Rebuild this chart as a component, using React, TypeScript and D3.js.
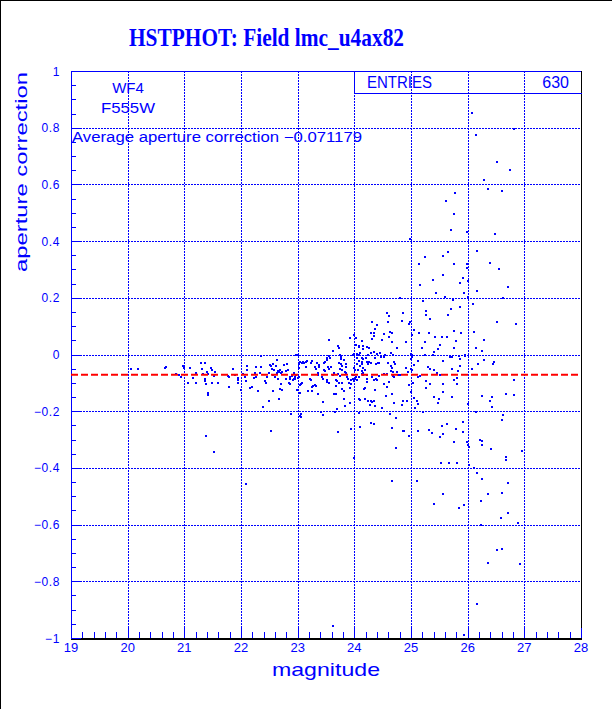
import React from "react";
import * as d3 from "d3";

const chartTitle = "HSTPHOT: Field lmc_u4ax82";
const xTitle = "magnitude";
const yTitle = "aperture correction";
const chipLabel = "WF4";
const filterLabel = "F555W";
const averageCorrection = -0.071179;
const averageLabel = "Average aperture correction \u22120.071179";
const entriesLabel = "ENTRIES";
const entries = 630;

const xTicks = [19, 20, 21, 22, 23, 24, 25, 26, 27, 28];
const yTicks = [-1, -0.8, -0.6, -0.4, -0.2, 0, 0.2, 0.4, 0.6, 0.8, 1];
const xGrid = [20, 21, 22, 23, 24, 25, 26, 27];
const yGrid = [-0.8, -0.6, -0.4, -0.2, 0, 0.2, 0.4, 0.6, 0.8];

// [magnitude, aperture correction]
const stars: [number, number][] = [
  [26.08,0.853],[26.81,0.796],[26.15,0.774],[26.51,0.679],[26.74,0.65],[26.28,0.615],[26.35,0.585],[26.61,0.576],
  [25.77,0.57],[25.61,0.541],[25.75,0.497],[25.7,0.44],[25.98,0.433],[26.49,0.426],[24.98,0.407],[26.17,0.366],
  [25.65,0.363],[25.24,0.344],[25.57,0.347],[25.14,0.319],[25.76,0.319],[25.98,0.319],[25.98,0.306],[26.4,0.324],
  [26.56,0.3],[25.56,0.28],[25.91,0.27],[25.38,0.263],[26.0,0.26],[25.86,0.253],[25.16,0.245],[26.71,0.238],
  [25.45,0.217],[25.93,0.217],[26.16,0.224],[24.8,0.198],[25.6,0.203],[26.0,0.202],[26.62,0.198],[25.22,0.189],
  [25.74,0.191],[26.1,0.178],[25.87,0.169],[25.7,0.16],[25.26,0.153],[24.57,0.147],[24.86,0.145],[24.61,0.137],
  [25.27,0.139],[25.66,0.139],[25.34,0.126],[26.51,0.115],[26.86,0.108],[24.59,0.115],[24.84,0.118],[24.98,0.114],
  [24.96,0.107],[25.75,0.083],[26.11,0.08],[24.63,0.079],[24.53,0.073],[24.67,0.076],[25.06,0.086],[25.14,0.076],
  [25.02,0.07],[25.32,0.075],[25.54,0.062],[25.63,0.062],[25.43,0.061],[25.88,0.075],[24.62,0.061],[24.48,0.052],
  [26.28,0.051],[25.8,0.048],[24.66,0.044],[24.92,0.044],[25.24,0.044],[25.52,0.034],[24.75,0.024],[25.19,0.022],
  [25.48,0.018],[25.75,0.024],[26.14,0.022],[26.26,0.012],[25.4,0.009],[24.46,0.005],[24.64,0.005],[25.0,0.002],
  [25.01,-0.003],[25.02,-0.01],[25.0,-0.015],[24.68,-0.002],[24.54,0.0],[25.24,-0.002],[25.39,-0.002],[25.72,-0.008],
  [25.68,-0.01],[25.95,0.0],[25.95,-0.005],[25.84,-0.005],[24.47,-0.01],[24.52,-0.01],[25.13,-0.022],[25.57,-0.022],
  [25.87,-0.017],[26.28,-0.018],[26.47,-0.025],[26.45,-0.033],[26.19,-0.032],[24.6,-0.03],[24.7,-0.028],[24.71,-0.033],
  [25.06,-0.036],[24.43,-0.03],
  [24.64,-0.041],[24.66,-0.048],[24.65,-0.058],[24.69,-0.062],[24.75,-0.06],[24.92,-0.047],[24.94,-0.063],[25.0,-0.05],
  [25.02,-0.056],[25.3,-0.044],[25.34,-0.051],[25.4,-0.056],[25.46,-0.064],[25.72,-0.051],[25.83,-0.058],[25.86,-0.041],
  [26.07,-0.051],[24.43,-0.075],[24.52,-0.07],[24.57,-0.07],[24.69,-0.075],[24.7,-0.078],[24.77,-0.071],[24.8,-0.071],
  [25.12,-0.078],[25.16,-0.075],[24.96,-0.108],[25.03,-0.102],[25.27,-0.092],[25.33,-0.103],[25.27,-0.117],[25.52,-0.073],
  [25.56,-0.105],[25.76,-0.089],[25.82,-0.104],[25.82,-0.084],[25.57,-0.131],[25.72,-0.15],[25.4,-0.15],[25.49,-0.157],
  [25.47,-0.171],[25.06,-0.153],[25.11,-0.163],[25.13,-0.176],[25.07,-0.19],[24.93,-0.163],[24.85,-0.164],[24.84,-0.177],
  [24.7,-0.17],[24.56,-0.145],[24.67,-0.139],[24.57,-0.115],[24.53,-0.103],[24.61,-0.096],[24.48,-0.188],[25.0,-0.131],
  [26.0,-0.176],[26.25,-0.145],[26.43,-0.15],[26.39,-0.163],[26.43,-0.184],[26.67,-0.138],[26.82,-0.143],[26.82,-0.089],
  [26.14,-0.204],[26.63,-0.215],[26.61,-0.231],[25.22,-0.202],[24.73,-0.223],[24.63,-0.209],[24.66,-0.259],[24.86,-0.269],
  [24.88,-0.27],[24.96,-0.286],[25.13,-0.27],[25.31,-0.266],[25.37,-0.278],[25.54,-0.251],[25.63,-0.245],[25.79,-0.262],
  [25.91,-0.237],[25.91,-0.274],[25.52,-0.29],[25.57,-0.282],[25.75,-0.308],[25.99,-0.31],[26.01,-0.319],[26.02,-0.325],
  [26.22,-0.3],[26.25,-0.305],[26.25,-0.319],[26.42,-0.333],[24.73,-0.329],[26.95,-0.34],[26.67,-0.361],[26.67,-0.371],
  [25.53,-0.384],[25.67,-0.382],[25.82,-0.382],[26.02,-0.39],[26.11,-0.399],[26.17,-0.417],[26.26,-0.438],[24.67,-0.445],
  [25.11,-0.445],[26.72,-0.452],[25.57,-0.491],[26.35,-0.491],[26.6,-0.487],[26.24,-0.516],[25.4,-0.526],[25.94,-0.531],
  [25.84,-0.54],[26.72,-0.558],[26.58,-0.578],[26.88,-0.595],[26.23,-0.601],[26.51,-0.69],[26.6,-0.686],[26.92,-0.739],
  [26.35,-0.734],[26.17,-0.881],[23.63,-0.959],[25.93,-0.99],
  [20.06,-0.05],[20.19,-0.052],[20.68,-0.043],[20.66,-0.047],[20.98,-0.041],[21.0,-0.047],[21.1,-0.049],[20.86,-0.07],
  [20.9,-0.072],[20.94,-0.08],[21.06,-0.099],[21.2,-0.064],[21.29,-0.031],[21.36,-0.03],[21.31,-0.051],[21.4,-0.062],
  [21.33,-0.068],[21.15,-0.084],[21.2,-0.099],[21.36,-0.087],[21.36,-0.093],[21.47,-0.047],[21.49,-0.055],[21.54,-0.061],
  [21.42,-0.069],[21.52,-0.077],[21.48,-0.102],[21.38,-0.105],[21.41,-0.142],[21.41,-0.135],[21.6,-0.099],[21.78,-0.115],
  [21.85,-0.05],[21.77,-0.075],[21.79,-0.079],[21.9,-0.072],[21.94,-0.09],[21.94,-0.099],[21.94,-0.083],[22.0,-0.125],
  [22.03,-0.068],[22.07,-0.078],[22.08,-0.093],[22.1,-0.04],[22.11,-0.055],[22.16,-0.118],[22.19,-0.114],[22.23,-0.082],
  [22.26,-0.078],[22.24,-0.064],[22.33,-0.066],[22.27,-0.043],[22.35,-0.005],[22.35,-0.045],[22.3,-0.128],[22.38,-0.185],
  [22.43,-0.092],[22.44,-0.099],[22.46,-0.078],[22.49,-0.066],[22.5,-0.165],[22.51,-0.036],[22.53,-0.041],[22.56,-0.033],
  [22.54,-0.052],[22.59,-0.055],[22.57,-0.072],[22.6,-0.078],[22.56,-0.128],[22.63,-0.019],[22.62,-0.04],[22.66,-0.057],
  [22.67,-0.062],[22.68,-0.055],[22.7,-0.064],[22.72,-0.062],[22.64,-0.066],[22.65,-0.087],[22.71,-0.104],[22.69,-0.123],
  [22.72,-0.126],[22.67,-0.156],[22.76,-0.036],[22.81,-0.035],[22.8,-0.057],[22.83,-0.055],[22.79,-0.085],[22.86,-0.08],
  [22.87,-0.087],[22.9,-0.075],[22.92,-0.09],[22.94,-0.087],[22.95,-0.082],[22.85,-0.099],[22.86,-0.105],[22.89,-0.21],
  [22.97,-0.001],[23.01,-0.001],[23.02,-0.032],[23.04,-0.025],[23.03,-0.047],[23.08,-0.031],[23.09,-0.025],[23.11,-0.031],
  [23.14,-0.028],[23.16,-0.023],[22.93,-0.066],[22.95,-0.078],[22.97,-0.072],[23.02,-0.08],[23.0,-0.084],[22.96,-0.087],
  [22.99,-0.125],[23.05,-0.103],[23.04,-0.106],[23.07,-0.102],[23.04,-0.135],[23.06,-0.209],[23.06,-0.219],[23.15,-0.043],
  [23.21,-0.086],[23.23,-0.09],[23.24,-0.029],[23.26,-0.024],[23.27,-0.11],[23.3,-0.108],[23.32,-0.11],[23.26,-0.116],
  [23.26,-0.128],[23.19,-0.13],[23.35,-0.14],[23.35,-0.066],[23.35,-0.071],[23.34,-0.03],[23.38,-0.037],[23.37,-0.045],
  [23.3,-0.045],[23.32,-0.052],[23.43,-0.079],[23.45,-0.085],[23.45,-0.168],[23.42,-0.203],[23.45,-0.213],[23.47,-0.056],
  [23.49,-0.059],[23.47,-0.031],[23.49,-0.028],[23.51,-0.011],[23.52,-0.019],[23.55,-0.004],[23.57,-0.011],[23.56,0.051],
  [23.62,0.013],[23.54,-0.044],[23.55,-0.052],[23.58,-0.043],[23.51,-0.097],[23.55,-0.102],[23.52,-0.09],[23.63,-0.071],
  [23.65,-0.066],[23.67,-0.09],[23.69,-0.095],[23.68,-0.11],[23.64,-0.139],[23.67,-0.139],[23.66,-0.203],[23.69,-0.193],
  [23.72,0.03],[23.73,0.023],[23.75,-0.002],[23.77,-0.01],[23.77,-0.017],[23.82,-0.018],[23.73,-0.029],[23.77,-0.032],
  [23.78,-0.041],[23.75,-0.051],[23.79,-0.055],[23.72,-0.07],[23.75,-0.075],[23.73,-0.099],[23.79,-0.102],[23.79,-0.122],
  [23.81,-0.128],[23.85,-0.035],[23.86,-0.044],[23.84,-0.063],[23.85,-0.066],[23.87,-0.08],[23.88,-0.086],[23.9,-0.102],
  [23.92,-0.119],[23.94,-0.104],[23.95,-0.09],[23.98,-0.072],[23.99,-0.047],[24.01,-0.055],[23.82,-0.156],[23.83,-0.182],
  [24.0,0.07],[24.03,0.057],[24.03,0.034],[24.08,0.031],[24.09,0.026],[23.97,-0.003],[24.0,0.001],[24.04,0.001],
  [24.08,-0.003],[24.1,0.005],[24.05,-0.011],[24.13,-0.011],[24.16,-0.015],[24.2,-0.011],[24.08,-0.024],[24.13,-0.025],
  [24.05,-0.034],[24.1,-0.041],[24.14,-0.034],[24.16,-0.047],[24.06,-0.055],[24.14,-0.057],[24.18,-0.054],[24.03,-0.078],
  [24.08,-0.08],[24.14,-0.07],[24.16,-0.072],[23.98,-0.087],[24.0,-0.095],[24.02,-0.087],[24.04,-0.09],[24.08,-0.158],
  [24.1,-0.161],[24.19,-0.158],[24.24,-0.163],[24.18,-0.117],[24.22,-0.097],[24.23,-0.085],[24.1,-0.255],[24.3,-0.243],
  [24.34,-0.245],[24.28,-0.177],[24.29,-0.165],[24.32,-0.168],[24.35,-0.163],[24.36,-0.181],[24.32,0.116],[24.4,0.104],
  [24.3,0.077],[24.34,0.064],[24.32,0.055],[24.16,0.031],[24.15,0.02],[24.23,0.028],[24.26,0.023],[24.24,-0.003],
  [24.3,0.004],[24.34,0.01],[24.36,-0.011],[24.4,0.002],[24.22,-0.025],[24.24,-0.032],[24.26,-0.028],[24.3,-0.031],
  [24.38,-0.032],[24.42,-0.031],[24.22,-0.072],[24.16,-0.066],[24.31,-0.078],[24.34,-0.09],[24.38,-0.087],[24.4,-0.09],
  [24.17,-0.123],[24.36,-0.125],[24.14,0.048],[23.93,0.059],[24.35,0.075],[24.37,0.09],[23.95,-0.262],[24.09,-0.208],
  [23.92,-0.17],[23.99,-0.366],[21.38,-0.289],[21.53,-0.343],[22.53,-0.269],[23.04,-0.217],[23.71,-0.272],[22.09,-0.457],
];

const BLUE = "#0000ff";

export default function App() {
  const W = 612;
  const H = 709;
  const x = d3.scaleLinear().domain([19, 28]).range([71, 581]);
  const y = d3.scaleLinear().domain([-1, 1]).range([638, 71]);
  const fmt = d3.format("~g");
  const xMinor = d3.range(19, 28.0001, 0.2).filter((v) => Math.abs(v - Math.round(v)) > 1e-6);
  const yMinor = d3.range(-1, 1.0001, 0.05).filter((v) => Math.abs(v / 0.2 - Math.round(v / 0.2)) > 1e-6);
  const x0 = x(19), x1 = x(28), yTop = y(1), yBot = y(-1);
  const sans = "'Liberation Sans', Arial, Helvetica, sans-serif";
  const serif = "'Liberation Serif', 'Times New Roman', serif";
  const boxLeft = 354;
  const boxBottom = 93;

  return (
    <svg width={W} height={H} style={{ position: "absolute", left: 0, top: 0, background: "#fff" }}>
      <rect x={0} y={0} width={W} height={H} fill="#fff" />
      <line x1={0.5} y1={0} x2={0.5} y2={H} stroke="#000" />
      <line x1={0} y1={0.5} x2={W} y2={0.5} stroke="#000" />

      <text x={129} y={46} fontFamily={serif} fontWeight="bold" fontSize={26} fill={BLUE}
        textLength={275} lengthAdjust="spacingAndGlyphs">{chartTitle}</text>

      {/* grid */}
      <g stroke={BLUE} strokeWidth={1} strokeDasharray="2,1" shapeRendering="crispEdges">
        {xGrid.map((v) => (
          <line key={"gx" + v} x1={Math.round(x(v)) + 0.5} x2={Math.round(x(v)) + 0.5} y1={yTop} y2={yBot} />
        ))}
        {yGrid.map((v) => (
          <line key={"gy" + v} x1={x0} x2={x1} y1={Math.round(y(v)) + 0.5} y2={Math.round(y(v)) + 0.5} />
        ))}
      </g>

      {/* frame */}
      <g shapeRendering="crispEdges">
        <line x1={x0} x2={x1 + 1} y1={yTop + 0.5} y2={yTop + 0.5} stroke={BLUE} />
        <line x1={x1 + 0.5} x2={x1 + 0.5} y1={yTop} y2={yBot} stroke="#000" />
        <line x1={x0} x2={x1 + 1} y1={yBot + 1} y2={yBot + 1} stroke="#000" strokeWidth={2} />
        <line x1={x0 + 0.5} x2={x0 + 0.5} y1={yTop} y2={yBot + 1} stroke={BLUE} />
      </g>

      {/* ticks */}
      <g stroke={BLUE} shapeRendering="crispEdges">
        {xTicks.map((v) => (
          <line key={"tx" + v} x1={Math.round(x(v)) + 0.5} x2={Math.round(x(v)) + 0.5} y1={yBot} y2={yBot - 10} />
        ))}
        {xMinor.map((v) => (
          <line key={"mx" + v} x1={Math.round(x(v)) + 0.5} x2={Math.round(x(v)) + 0.5} y1={yBot} y2={yBot - 6} />
        ))}
        {yTicks.map((v) => (
          <line key={"ty" + v} x1={x0} x2={x0 + 10} y1={Math.round(y(v)) + 0.5} y2={Math.round(y(v)) + 0.5} />
        ))}
        {yMinor.map((v) => (
          <line key={"my" + v} x1={x0} x2={x0 + 5} y1={Math.round(y(v)) + 0.5} y2={Math.round(y(v)) + 0.5} />
        ))}
      </g>

      {/* tick labels */}
      <g fill={BLUE} fontFamily={sans}>
        {xTicks.map((v) => (
          <text key={"lx" + v} x={x(v)} y={652} fontSize={13} textAnchor="middle">{fmt(v)}</text>
        ))}
        {yTicks.map((v) => (
          <text key={"ly" + v} x={60} y={y(v) + 4.5} fontSize={12} letterSpacing={0.6} textAnchor="end">{fmt(v)}</text>
        ))}
      </g>

      {/* axis titles */}
      <text x={272} y={676} fontFamily={sans} fontSize={19} fill={BLUE} textLength={108}
        lengthAdjust="spacingAndGlyphs">{xTitle}</text>
      <text transform={`translate(27,72) rotate(-90)`} fontFamily={sans} fontSize={17} fill={BLUE}
        textAnchor="end" textLength={200} lengthAdjust="spacingAndGlyphs">{yTitle}</text>

      {/* stats box */}
      <g shapeRendering="crispEdges">
        <line x1={boxLeft + 0.5} x2={boxLeft + 0.5} y1={yTop} y2={boxBottom} stroke={BLUE} />
        <line x1={boxLeft} x2={x1 + 1} y1={boxBottom + 0.5} y2={boxBottom + 0.5} stroke={BLUE} />
      </g>
      <text x={367} y={88} fontFamily={sans} fontSize={16} fill={BLUE} textLength={65}
        lengthAdjust="spacingAndGlyphs">{entriesLabel}</text>
      <text x={569} y={88} fontFamily={sans} fontSize={16} fill={BLUE} textAnchor="end">{String(entries)}</text>

      {/* labels */}
      <text x={128} y={93} fontFamily={sans} fontSize={15} fill={BLUE} textAnchor="middle">{chipLabel}</text>
      <text x={101} y={113} fontFamily={sans} fontSize={15} fill={BLUE} textLength={54}
        lengthAdjust="spacingAndGlyphs">{filterLabel}</text>
      <text x={72} y={142} fontFamily={sans} fontSize={14} fill={BLUE} textLength={290}
        lengthAdjust="spacingAndGlyphs">{averageLabel}</text>

      {/* points */}
      <g fill={BLUE} shapeRendering="crispEdges">
        {stars.map((d, i) => (
          <rect key={i} x={Math.round(x(d[0])) - 1} y={Math.round(y(d[1])) - 1} width={2} height={2} />
        ))}
      </g>

      {/* average line */}
      <line x1={x0} x2={x1} y1={y(averageCorrection)} y2={y(averageCorrection)} stroke="#ff0000"
        strokeWidth={2} strokeDasharray="7,3" />
    </svg>
  );
}
